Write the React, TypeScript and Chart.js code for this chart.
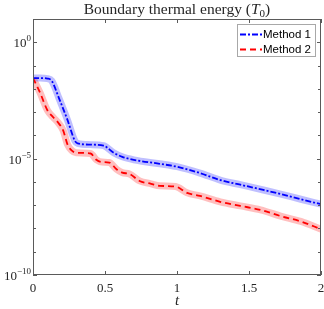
import { useEffect, useRef } from "react";
import { Chart, registerables } from "chart.js";

Chart.register(...registerables);

// ---- data ----
const T_METHOD1 = [0, 0.05, 0.1, 0.13, 0.18, 0.24, 0.29, 0.31, 0.4, 0.49, 0.56, 0.62, 0.7, 0.88, 1.0, 1.16, 1.3, 1.44, 1.6, 1.72, 1.86, 2.0];
const E_METHOD1 = [2.9e-2, 2.9e-2, 2.75e-2, 2.2e-2, 4e-3, 4.5e-4, 6e-5, 4.5e-5, 4e-5, 3.6e-5, 1.8e-5, 1.2e-5, 8.9e-6, 6e-6, 4.5e-6, 2.4e-6, 1.2e-6, 7.6e-7, 4.5e-7, 3e-7, 1.8e-7, 1.1e-7];
const T_METHOD2 = [0, 0.05, 0.1, 0.14, 0.18, 0.21, 0.24, 0.27, 0.3, 0.4, 0.44, 0.48, 0.53, 0.58, 0.62, 0.67, 0.74, 0.82, 0.88, 0.99, 1.07, 1.16, 1.3, 1.44, 1.58, 1.72, 1.86, 2.0];
const E_METHOD2 = [2.9e-2, 6.6e-3, 1.2e-3, 6e-4, 3.2e-4, 1.6e-4, 4e-5, 2.2e-5, 1.8e-5, 1.66e-5, 8.9e-6, 7.1e-6, 6.8e-6, 3.5e-6, 2.5e-6, 2.2e-6, 1.1e-6, 8.3e-7, 6.8e-7, 6.3e-7, 3.4e-7, 2.5e-7, 1.4e-7, 9.3e-8, 6.3e-8, 3.4e-8, 2e-8, 9.3e-9];

const SERIES_NAMES = ["Method 1", "Method 2"];
const X_TICKS = [0, 0.5, 1, 1.5, 2];
const Y_MAJOR_EXP = [0, -5, -10];
const Y_MIN_EXP = -10;
const Y_MAX_EXP = 1;
const TITLE_MAIN = "Boundary thermal energy (";
const TITLE_VAR = "T";
const TITLE_SUB = "0";
const TITLE_END = ")";
const X_LABEL = "t";

const SERIF = "'Liberation Serif', 'DejaVu Serif', serif";
const SANS = "'Liberation Sans', Arial, sans-serif";
const AXIS_COLOR = "#5a5a5a";
const TEXT_COLOR = "#262626";

const toPts = (xs: number[], ys: number[]) => xs.map((x, i) => ({ x, y: ys[i] }));

const framePlugin = {
  id: "matlabFrame",
  afterDraw(chart: any) {
    const { ctx, chartArea: a, scales } = chart;
    const xs = scales.x;
    const ys = scales.y;
    ctx.save();
    // box
    ctx.strokeStyle = AXIS_COLOR;
    ctx.lineWidth = 1;
    ctx.strokeRect(Math.round(a.left) + 0.5, Math.round(a.top) + 0.5, Math.round(a.right - a.left) - 1, Math.round(a.bottom - a.top) - 1);
    // x ticks (inward, top and bottom)
    ctx.beginPath();
    for (const t of X_TICKS) {
      const px = Math.round(xs.getPixelForValue(t)) + 0.5;
      ctx.moveTo(px, a.bottom);
      ctx.lineTo(px, a.bottom - 4);
      ctx.moveTo(px, a.top);
      ctx.lineTo(px, a.top + 4);
    }
    // y ticks (decades)
    for (let e = Y_MIN_EXP; e <= Y_MAX_EXP; e++) {
      const py = Math.round(ys.getPixelForValue(Math.pow(10, e))) + 0.5;
      const len = Y_MAJOR_EXP.includes(e) ? 4 : 3;
      ctx.moveTo(a.left, py);
      ctx.lineTo(a.left + len, py);
      ctx.moveTo(a.right, py);
      ctx.lineTo(a.right - len, py);
    }
    ctx.stroke();

    // y tick labels with superscripts
    ctx.fillStyle = TEXT_COLOR;
    ctx.textBaseline = "alphabetic";
    for (const e of Y_MAJOR_EXP) {
      const py = ys.getPixelForValue(Math.pow(10, e));
      const base = "10";
      const exp = e < 0 ? "\u2212" + String(-e) : String(e);
      ctx.font = `13px ${SERIF}`;
      const wb = ctx.measureText(base).width;
      ctx.font = `9px ${SERIF}`;
      const we = ctx.measureText(exp).width;
      const right = a.left - 2;
      const x0 = right - wb - we;
      ctx.font = `13px ${SERIF}`;
      ctx.textAlign = "left";
      ctx.fillText(base, x0, py + 5);
      ctx.font = `9px ${SERIF}`;
      ctx.fillText(exp, x0 + wb, py - 1);
    }

    // title
    const cx = (a.left + a.right) / 2;
    const fs = 15.5;
    ctx.font = `${fs}px ${SERIF}`;
    const w1 = ctx.measureText(TITLE_MAIN).width;
    const w4 = ctx.measureText(TITLE_END).width;
    ctx.font = `italic ${fs}px ${SERIF}`;
    const w2 = ctx.measureText(TITLE_VAR).width;
    ctx.font = `11px ${SERIF}`;
    const w3 = ctx.measureText(TITLE_SUB).width;
    let tx = cx - (w1 + w2 + w3 + w4) / 2;
    const ty = 13.5;
    ctx.textAlign = "left";
    ctx.font = `${fs}px ${SERIF}`;
    ctx.fillText(TITLE_MAIN, tx, ty);
    tx += w1;
    ctx.font = `italic ${fs}px ${SERIF}`;
    ctx.fillText(TITLE_VAR, tx, ty);
    tx += w2;
    ctx.font = `11px ${SERIF}`;
    ctx.fillText(TITLE_SUB, tx, ty + 3);
    tx += w3;
    ctx.font = `${fs}px ${SERIF}`;
    ctx.fillText(TITLE_END, tx, ty);

    // x label
    ctx.font = `italic 15px ${SERIF}`;
    ctx.textAlign = "center";
    ctx.fillText(X_LABEL, cx, 305);

    // legend
    const lx = 237, ly = 24, lw = 79, lh = 33;
    ctx.fillStyle = "#ffffff";
    ctx.fillRect(lx, ly, lw, lh);
    ctx.strokeStyle = "#a8a8a8";
    ctx.lineWidth = 1;
    ctx.strokeRect(lx + 0.5, ly + 0.5, lw - 1, lh - 1);
    const entries = [
      { name: SERIES_NAMES[0], color: "#0000ff", dash: [6, 2, 2, 2], y: 34.5 },
      { name: SERIES_NAMES[1], color: "#ff0000", dash: [6, 4], y: 49.5 },
    ];
    for (const en of entries) {
      ctx.strokeStyle = en.color;
      ctx.lineWidth = 2;
      ctx.setLineDash(en.dash);
      ctx.beginPath();
      ctx.moveTo(lx + 3, en.y);
      ctx.lineTo(lx + 25, en.y);
      ctx.stroke();
      ctx.setLineDash([]);
      ctx.fillStyle = "#000000";
      ctx.font = `11.5px ${SANS}`;
      ctx.textAlign = "left";
      ctx.textBaseline = "middle";
      ctx.fillText(en.name, lx + 26, en.y + 0.5);
    }
    ctx.restore();
  },
};

export default function App() {
  const ref = useRef<HTMLCanvasElement>(null);
  useEffect(() => {
    document.body.style.margin = "0";
    const d1 = toPts(T_METHOD1, E_METHOD1);
    const d2 = toPts(T_METHOD2, E_METHOD2);
    const chart = new Chart(ref.current!, {
      type: "line",
      data: {
        datasets: [
          { label: SERIES_NAMES[0] + " band", data: d1, borderColor: "rgba(0,0,255,0.25)", borderWidth: 7, pointRadius: 0, cubicInterpolationMode: "monotone", order: 2, borderCapStyle: "butt" },
          { label: SERIES_NAMES[1] + " band", data: d2, borderColor: "rgba(255,0,0,0.25)", borderWidth: 7, pointRadius: 0, cubicInterpolationMode: "monotone", order: 2, borderCapStyle: "butt" },
          { label: SERIES_NAMES[0], data: d1, borderColor: "#0000ff", borderWidth: 1.8, borderDash: [6, 2, 2, 2], pointRadius: 0, cubicInterpolationMode: "monotone", order: 1 },
          { label: SERIES_NAMES[1], data: d2, borderColor: "#ff0000", borderWidth: 1.8, borderDash: [6, 4], pointRadius: 0, cubicInterpolationMode: "monotone", order: 1 },
        ],
      } as any,
      options: {
        animation: false,
        responsive: false,
        maintainAspectRatio: false,
        layout: { padding: { top: 19, right: 3, left: 0, bottom: 0 } },
        plugins: { legend: { display: false }, title: { display: false }, tooltip: { enabled: false } },
        scales: {
          x: {
            type: "linear",
            min: 0,
            max: 2,
            grid: { display: false, drawTicks: false },
            border: { display: false },
            afterFit: (s: any) => { s.height = 34; s.paddingLeft = 0; s.paddingRight = 0; },
            afterBuildTicks: (s: any) => { s.ticks = X_TICKS.map((v) => ({ value: v })); },
            ticks: {
              color: TEXT_COLOR,
              font: { family: SERIF, size: 13 },
              padding: 6,
              maxRotation: 0,
              callback: (v: any) => String(v),
            },
          },
          y: {
            type: "logarithmic",
            min: Math.pow(10, Y_MIN_EXP),
            max: Math.pow(10, Y_MAX_EXP),
            grid: { display: false, drawTicks: false },
            border: { display: false },
            ticks: { display: false },
            afterFit: (s: any) => { s.width = 33; s.paddingTop = 0; s.paddingBottom = 0; },
          },
        },
      } as any,
      plugins: [framePlugin],
    });
    return () => chart.destroy();
  }, []);
  return (
    <div style={{ width: 324, height: 309 }}>
      <canvas ref={ref} width={324} height={309} style={{ display: "block" }} />
    </div>
  );
}
